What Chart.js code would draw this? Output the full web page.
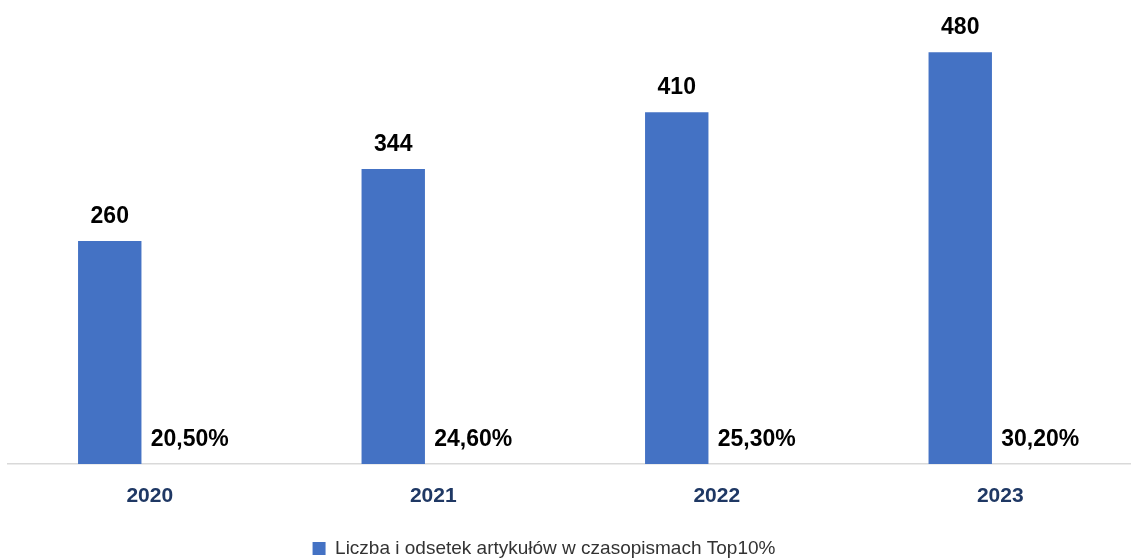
<!DOCTYPE html>
<html lang="pl">
<head>
<meta charset="UTF-8">
<title>Top10%</title>
<script src="https://cdn.jsdelivr.net/npm/chart.js@4/dist/chart.umd.min.js"></script>
<style>
    html, body { margin: 0; padding: 0; background: #ffffff; overflow: hidden; }
    #wrap { position: absolute; left: -54px; top: 0; width: 1196px; height: 568px; }
</style>
</head>
<body>
<div id="wrap"><canvas id="chart" width="1196" height="568"></canvas></div>
<script>
const years = ["2020", "2021", "2022", "2023"];
const articleCounts = [260, 344, 410, 480];
const articleShares = [0.205, 0.246, 0.253, 0.302];
const seriesLabel = "Liczba i odsetek artykułów w czasopismach Top10%";

const BAR_BLUE = "#4472C4";
const FONT = "'Liberation Sans', Arial, sans-serif";

const formatShare = v => (v * 100).toFixed(2).replace(".", ",") + "%";

// Etykiety wartości nad słupkami
const valueLabels = {
    id: "valueLabels",
    afterDatasetsDraw(chart) {
        const { ctx } = chart;
        ctx.save();
        ctx.font = `bold 23px ${FONT}`;
        ctx.fillStyle = "#000000";
        ctx.textAlign = "center";
        ctx.textBaseline = "alphabetic";
        chart.data.datasets.forEach((ds, i) => {
            const meta = chart.getDatasetMeta(i);
            meta.data.forEach((bar, j) => {
                const v = ds.data[j];
                const text = i === 0 ? String(v) : formatShare(v);
                ctx.fillText(text, bar.x, bar.y - 18);
            });
        });
        ctx.restore();
    }
};

document.addEventListener("DOMContentLoaded", () => {
    const ctx = document.getElementById("chart").getContext("2d");

    new Chart(ctx, {
        type: "bar",
        data: {
            labels: years,
            datasets: [
                {
                    label: seriesLabel,
                    data: articleCounts,
                    backgroundColor: BAR_BLUE,
                    borderWidth: 0
                },
                {
                    label: "odsetek",
                    data: articleShares,
                    backgroundColor: "rgba(0,0,0,0)",
                    borderWidth: 0
                }
            ]
        },
        options: {
            responsive: false,
            animation: false,
            layout: { padding: 0 },
            datasets: {
                bar: { categoryPercentage: 0.5644, barPercentage: 0.7925 }
            },
            scales: {
                x: {
                    grid: { display: false, drawTicks: false },
                    border: { display: true, color: "#D9D9D9", width: 1.5 },
                    ticks: {
                        padding: 20,
                        color: "#1F3864",
                        font: { family: FONT, size: 21, weight: "bold" }
                    },
                    afterFit: axis => { axis.height = 72; }
                },
                y: {
                    min: 0,
                    max: 541,
                    grid: { display: false, drawTicks: false },
                    border: { display: false },
                    ticks: { display: false },
                    afterFit: axis => { axis.width = 62; }
                }
            },
            plugins: {
                tooltip: { enabled: false },
                legend: {
                    position: "bottom",
                    labels: {
                        boxWidth: 13,
                        boxHeight: 13,
                        padding: 3,
                        color: "#333333",
                        font: { family: FONT, size: 19 },
                        filter: item => item.datasetIndex === 0
                    }
                }
            }
        },
        plugins: [valueLabels]
    });
});
</script>
</body>
</html>
